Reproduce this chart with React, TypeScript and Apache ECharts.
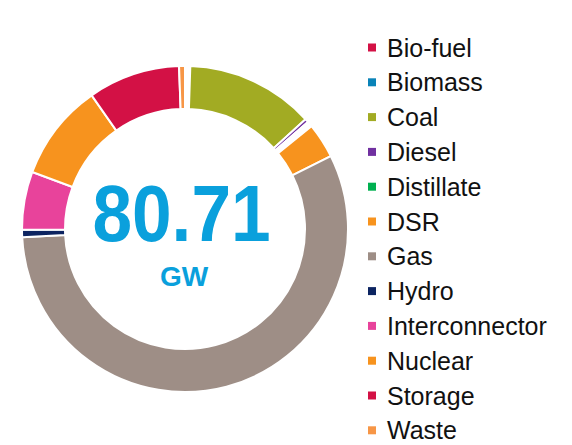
import React, { useEffect, useRef } from "react";
import * as echarts from "echarts";

const categories = ["Bio-fuel", "Biomass", "Coal", "Diesel", "Distillate", "DSR", "Gas", "Hydro", "Interconnector", "Nuclear", "Storage", "Waste"];
const values = [0.21, 0.21, 10.27, 0.28, 0.44, 2.81, 45.66, 0.6, 4.64, 7.76, 7.36, 0.47];
const colors = ["#d31145", "#0a83b8", "#a2ab23", "#7030a0", "#00b050", "#f7931e", "#9e8e86", "#0c2461", "#e8439b", "#f7931e", "#d31145", "#f79646"];
// slices too small to show in the reference (drawn as blank gap)
const hiddenSlices = ["Bio-fuel", "Biomass", "Distillate"];
const totalLabel = "80.71";
const unitLabel = "GW";

export default function App() {
  const ref = useRef<HTMLDivElement>(null);
  useEffect(() => {
    if (!ref.current) return;
    const chart = echarts.init(ref.current, undefined, { renderer: "svg" });
    const data = categories.map((name, i) => ({
      name,
      value: values[i],
      itemStyle: {
        color: hiddenSlices.includes(name) ? "#ffffff" : colors[i],
      },
    }));
    const legendData = categories.map((name, i) => ({
      name,
      itemStyle: { color: colors[i], borderWidth: 0 },
    }));
    chart.setOption({
      animation: false,
      backgroundColor: "#ffffff",
      legend: {
        orient: "vertical",
        left: 368,
        top: 35,
        height: 420,
        padding: 0,
        icon: "rect",
        itemWidth: 8,
        itemHeight: 8,
        itemGap: 9.8,
        selectedMode: false,
        data: legendData,
        textStyle: {
          fontFamily: "Liberation Sans",
          fontSize: 25,
          color: "#111111",
          padding: [0, 0, 0, 6],
        },
      },
      series: [
        {
          type: "pie",
          center: [185, 229],
          radius: [120, 163],
          startAngle: 90,
          clockwise: true,
          label: { show: false },
          labelLine: { show: false },
          emphasis: { disabled: true },
          itemStyle: { borderColor: "#ffffff", borderWidth: 2 },
          data,
        },
      ],
      graphic: [
        {
          type: "text",
          x: 181.5,
          y: 213,
          scaleX: 0.89,
          style: {
            text: totalLabel,
            fontFamily: "Liberation Sans",
            fontWeight: "bold",
            fontSize: 80,
            fill: "#0aa0dc",
            align: "center",
            verticalAlign: "middle",
          },
        },
        {
          type: "text",
          x: 184,
          y: 276,
          style: {
            text: unitLabel,
            fontFamily: "Liberation Sans",
            fontWeight: "bold",
            fontSize: 28,
            fill: "#0aa0dc",
            align: "center",
            verticalAlign: "middle",
          },
        },
      ],
    });
    return () => chart.dispose();
  }, []);
  return (
    <div
      ref={ref}
      style={{ position: "fixed", left: 0, top: 0, width: 572, height: 445 }}
    />
  );
}
